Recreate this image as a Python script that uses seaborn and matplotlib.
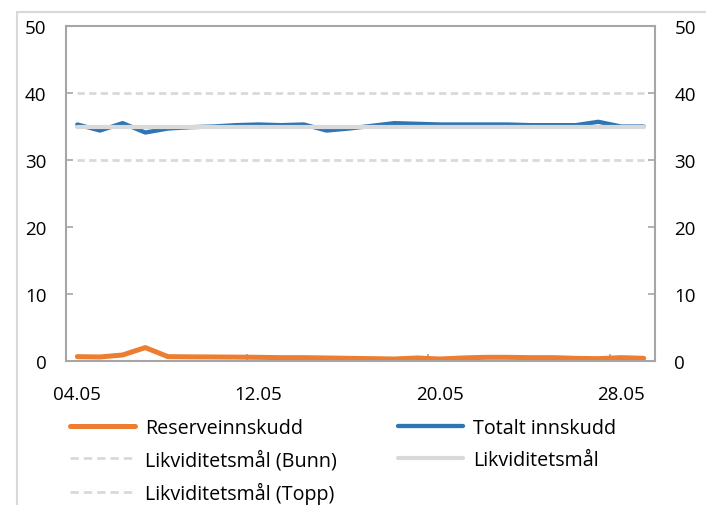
import pandas as pd
import seaborn as sns
import matplotlib.pyplot as plt
from matplotlib.lines import Line2D

# Daily values, 04.05 - 29.05
dates = ["04.05", "05.05", "06.05", "07.05", "08.05", "09.05", "10.05", "11.05", "12.05",
         "13.05", "14.05", "15.05", "16.05", "17.05", "18.05", "19.05", "20.05", "21.05",
         "22.05", "23.05", "24.05", "25.05", "26.05", "27.05", "28.05", "29.05"]
reserve = [0.65, 0.6, 0.9, 2.0, 0.65, 0.62, 0.6, 0.58, 0.55, 0.5, 0.5, 0.45, 0.4,
           0.35, 0.3, 0.45, 0.3, 0.45, 0.55, 0.55, 0.5, 0.5, 0.4, 0.35, 0.5, 0.4]
total = [35.3, 34.4, 35.5, 34.1, 34.7, 34.9, 35.0, 35.2, 35.3, 35.2, 35.3, 34.4, 34.7,
         35.1, 35.5, 35.4, 35.3, 35.3, 35.3, 35.3, 35.2, 35.2, 35.2, 35.7, 35.0, 35.0]
target_low = 30
target_mid = 35
target_high = 40
shown_labels = ["04.05", "12.05", "20.05", "28.05"]

orange = "#ED7D31"
blue = "#2E75B6"
light = "#D9D9D9"
spine_col = "#A6A6A6"

sns.set_style("white")
plt.rcParams["font.family"] = ["Open Sans", "DejaVu Sans"]
plt.rcParams["font.size"] = 13.5
plt.rcParams["text.color"] = "black"

df = pd.DataFrame({"dag": range(len(dates)), "dato": dates,
                   "Reserveinnskudd": reserve, "Totalt innskudd": total})
df["Bunn"] = target_low
df["Mål"] = target_mid
df["Topp"] = target_high

fig = plt.figure(figsize=(7.06, 5.06), dpi=100)
ax = fig.add_axes([66 / 706, 1 - 362 / 506, (655 - 66) / 706, (362 - 27) / 506])

dash = (2.6, 1.6)
sns.lineplot(data=df, x="dag", y="Bunn", color=light, lw=2, ax=ax)
sns.lineplot(data=df, x="dag", y="Topp", color=light, lw=2, ax=ax)
for l in ax.lines:
    l.set_dashes(dash)
sns.lineplot(data=df, x="dag", y="Totalt innskudd", color=blue, lw=3.1, ax=ax)
sns.lineplot(data=df, x="dag", y="Mål", color=light, lw=3, ax=ax)
sns.lineplot(data=df, x="dag", y="Reserveinnskudd", color=orange, lw=3.6, ax=ax)
for l in ax.lines:
    l.set_solid_capstyle("round")

ax.set_xlim(-0.5, len(dates) - 0.5)
ax.set_ylim(0, 50)
ax.set_yticks(range(0, 51, 10))
idx = [dates.index(d) for d in shown_labels]
ax.set_xticks(idx)
ax.set_xticklabels(shown_labels)
ax.set_xticks([i - 0.5 for i in idx[1:]], minor=True)
ax.set_xlabel("")
ax.set_ylabel("")

for s in ax.spines.values():
    s.set_color(spine_col)
    s.set_linewidth(1.5)
ax.tick_params(axis="y", direction="in", length=5, color=spine_col, width=1.2,
               left=True, right=True, labelleft=True, labelright=True, pad=14,
               labelcolor="black")
ax.tick_params(axis="x", which="major", length=0, pad=17, labelcolor="black")
ax.tick_params(axis="x", which="minor", direction="in", length=5, color=spine_col,
               width=1.2, bottom=True)

handles = [
    Line2D([], [], color=orange, lw=3.6, solid_capstyle="round"),
    Line2D([], [], color=light, lw=2, dashes=(3, 1.8)),
    Line2D([], [], color=light, lw=2, dashes=(3, 1.8)),
    Line2D([], [], color=blue, lw=3.1, solid_capstyle="round"),
    Line2D([], [], color=light, lw=3),
]
labels = ["Reserveinnskudd", "Likviditetsmål (Bunn)", "Likviditetsmål (Topp)",
          "Totalt innskudd", "Likviditetsmål"]
fig.legend(handles, labels, ncol=2, frameon=False, loc="upper left", fontsize=14.2,
           bbox_to_anchor=(52 / 706, 1 - 401 / 506), handlelength=3.3,
           handletextpad=0.5, columnspacing=3.1, labelspacing=0.6)

# light frame around the figure
fig.add_artist(Line2D([17 / 706, 1], [1 - 13 / 506] * 2, color="#D9D9D9", lw=1.5))
fig.add_artist(Line2D([17 / 706] * 2, [0, 1 - 13 / 506], color="#D9D9D9", lw=1.5))

fig.savefig("out.png", dpi=100)
